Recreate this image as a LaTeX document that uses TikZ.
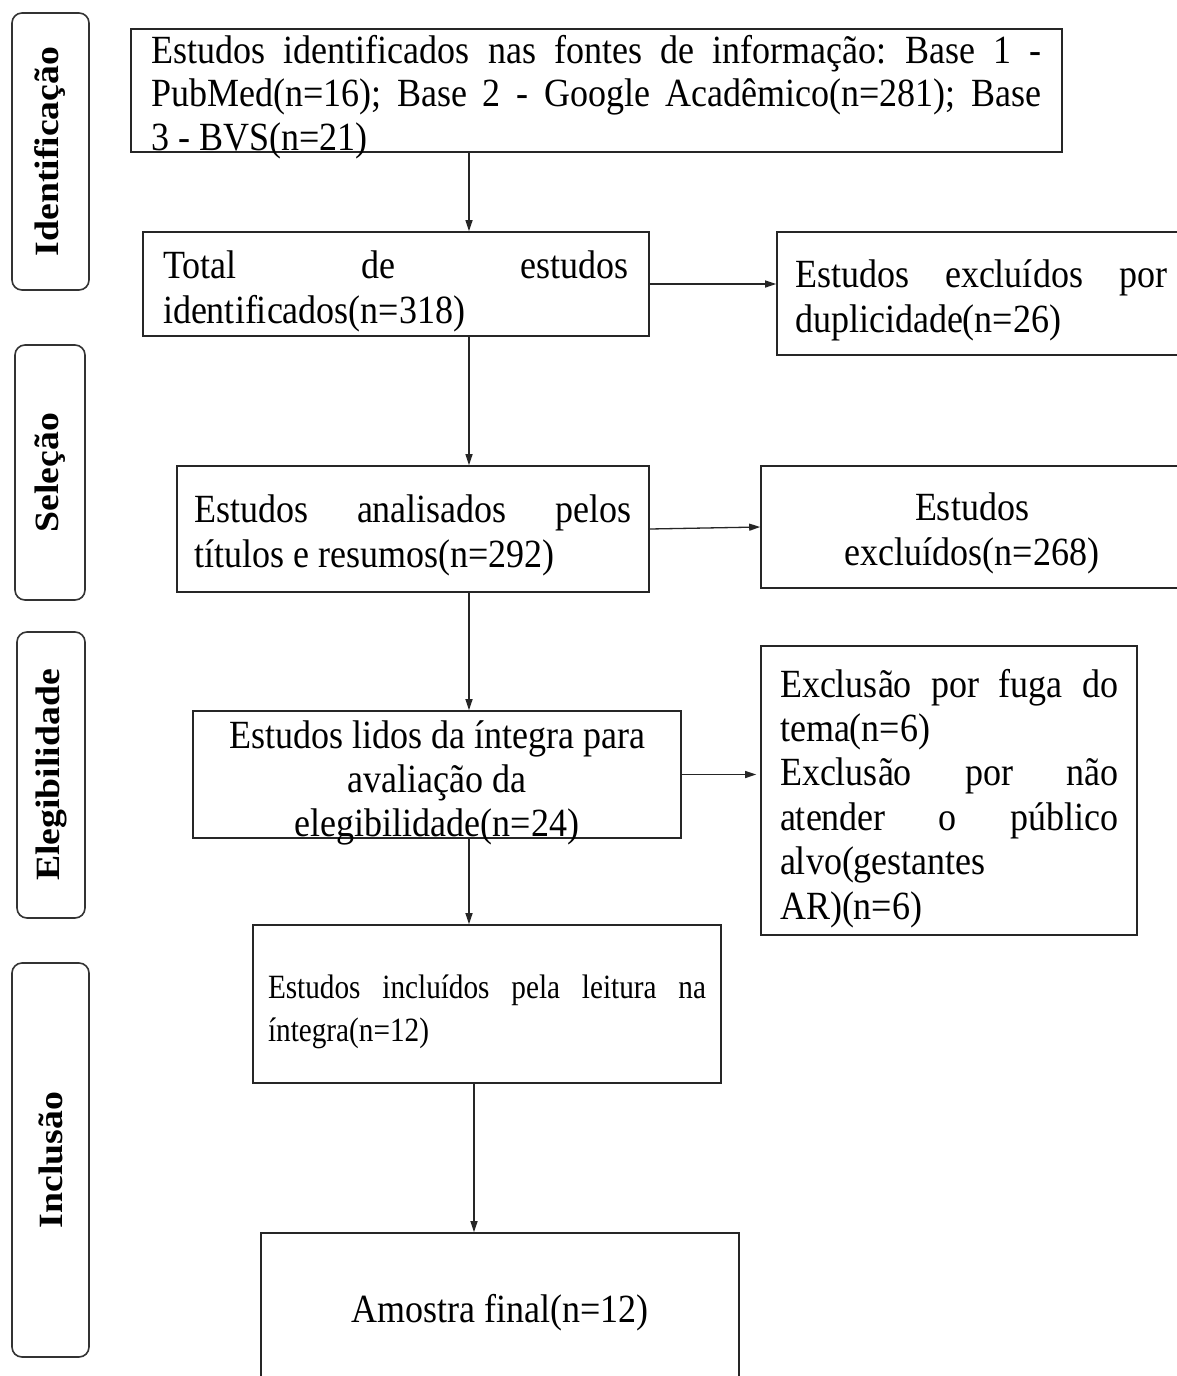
\documentclass[tikz,border=0pt]{standalone}
\usepackage{fontspec}
\setmainfont{Liberation Serif}[FakeStretch=0.9]
\newfontfamily\condfont{Liberation Serif}[FakeStretch=0.86]
\newfontfamily\labfont{Liberation Serif}[FakeStretch=1.11]
\usetikzlibrary{arrows.meta}
\tolerance=9999
\hyphenpenalty=10000
\exhyphenpenalty=10000
\hbadness=10000
\vbadness=10000
\frenchspacing
% #1 alignment, #2 box height, #3 text width, #4 first baseline from top, #5 text
\newcommand\boxtext[5][]{\parbox[c][#2][t]{#3}{#1\rule{0pt}{#4}#5}}
\begin{document}
\begin{tikzpicture}[x=1pt,y=-1pt,
  box/.style={draw=black!85, line width=1.6pt, inner xsep=0pt, inner ysep=0pt,
    font=\fontsize{40pt}{45pt}\selectfont},
  lab/.style={draw=black!80, line width=1.6pt, rounded corners=10pt, rotate=90,
    inner sep=0pt, font=\labfont\bfseries\fontsize{34pt}{36pt}\selectfont},
  arr/.style={line width=1.3pt, draw=black!85, -{Triangle[length=11pt,width=7pt]}}]
\useasboundingbox (0,0) rectangle (1177,1376);
\clip (0,0) rectangle (1177,1376);
\fill[white] (0,0) rectangle (1177,1376);

% phase labels
\node[lab, minimum width=277pt, minimum height=77pt] (l1) at (50.5,151.5) {Identificação};
\node[lab, minimum width=255pt, minimum height=70pt] (l2) at (50,472.5) {Seleção};
\node[lab, minimum width=286pt, minimum height=68pt] (l3) at (51,775) {Elegibilidade};
\node[lab, minimum width=394pt, minimum height=77pt] (l4) at (50.5,1160) {Inclusão};

% boxes
\node[box, minimum width=931pt, minimum height=123pt,
  font=\fontsize{40pt}{43.5pt}\selectfont] (b1) at (596.5,90.5)
  {\boxtext{123pt}{890pt}{34pt}{Estudos identificados nas fontes de informação: Base 1 -\linebreak PubMed(n=16); Base 2 - Google Acadêmico(n=281); Base\linebreak 3 - BVS(n=21)}};
\node[box, minimum width=506pt, minimum height=104pt] (b2) at (396,284)
  {\boxtext{104pt}{466pt}{46pt}{Total de estudos\linebreak identificados(n=318)}};
\node[box, minimum width=408pt, minimum height=123pt] (b3) at (981,293.5)
  {\boxtext{123pt}{372pt}{55pt}{Estudos excluídos por\linebreak duplicidade(n=26)}};
\node[box, minimum width=472pt, minimum height=126pt] (b4) at (413,529)
  {\boxtext{126pt}{437pt}{56pt}{Estudos analisados pelos\linebreak títulos e resumos(n=292)}};
\node[box, minimum width=422pt, minimum height=122pt] (b5) at (972,527)
  {\boxtext[\centering]{122pt}{380pt}{54pt}{Estudos\\excluídos(n=268)}};
\node[box, minimum width=488pt, minimum height=127pt,
  font=\fontsize{40pt}{44pt}\selectfont] (b6) at (437,774.5)
  {\boxtext[\centering]{127pt}{450pt}{37pt}{Estudos lidos da íntegra para\\avaliação da\\elegibilidade(n=24)}};
\node[box, minimum width=376pt, minimum height=289pt,
  font=\fontsize{40pt}{44.4pt}\selectfont] (b7) at (949,790.5)
  {\boxtext{289pt}{338pt}{51pt}{Exclusão por fuga do\linebreak tema(n=6)\par Exclusão por não\linebreak atender o público\linebreak alvo(gestantes\linebreak AR)(n=6)}};
\node[box, minimum width=468pt, minimum height=158pt,
  font=\condfont\fontsize{34pt}{43pt}\selectfont] (b8) at (487,1004)
  {\boxtext{158pt}{438pt}{73pt}{Estudos incluídos pela leitura na\linebreak íntegra(n=12)}};
\node[box, minimum width=478pt, minimum height=154pt] (b9) at (500,1310)
  {\boxtext[\centering]{154pt}{440pt}{89pt}{Amostra final(n=12)}};

% connectors
\coordinate (cx) at (469,0);
\coordinate (cy) at (474,0);
\draw[arr] (b1.south -| cx) -- (b2.north -| cx);
\draw[arr] (b2.east) -- (b2.east -| b3.west);
\draw[arr] (b2.south -| cx) -- (b4.north -| cx);
\draw[arr] (b4.east) -- (b5.west);
\draw[arr] (b4.south -| cx) -- (b6.north -| cx);
\draw[arr, shorten >=4pt] (b6.east) -- (b6.east -| b7.west);
\draw[arr] (b6.south -| cx) -- (b8.north -| cx);
\draw[arr] (b8.south -| cy) -- (b9.north -| cy);
\end{tikzpicture}
\end{document}
